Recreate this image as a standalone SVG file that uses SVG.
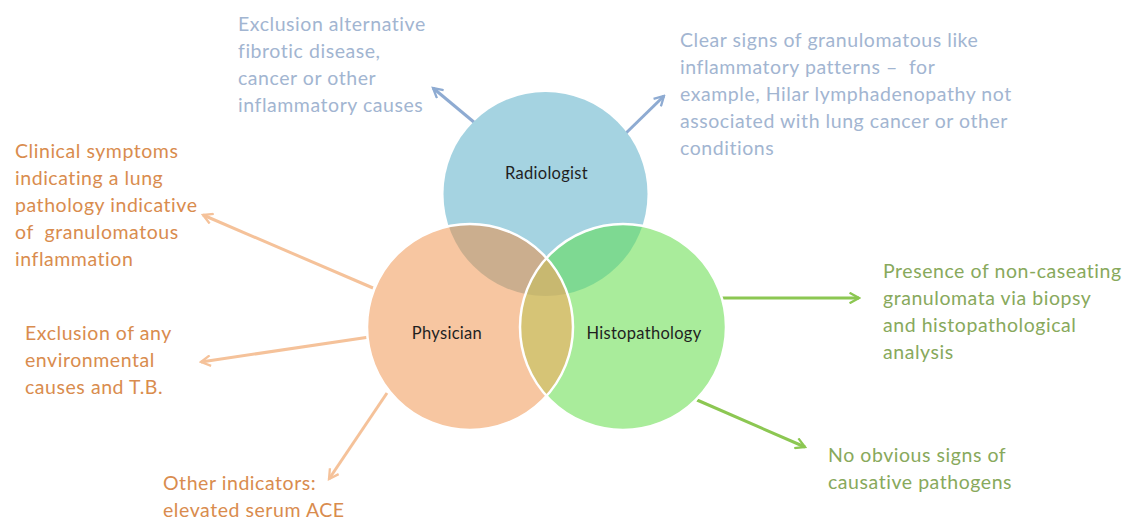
<svg xmlns="http://www.w3.org/2000/svg" width="1138" height="522" viewBox="0 0 1138 522">
<style>
text{font-family:Lato,"Liberation Sans",sans-serif}
.lbl{font-size:16.5px;fill:#1f1f1f;text-anchor:middle;letter-spacing:0.3px}
.t{font-size:19.5px;letter-spacing:0.55px}
.tb{fill:#A2B5D1}
.to{fill:#D98C4E}
.tg{fill:#88A95C}
.cb{stroke:#8EABD2;stroke-width:3;fill:none}
.co{stroke:#F5C29A;stroke-width:3;fill:none}
.cg{stroke:#8CC752;stroke-width:3;fill:none}
</style>
<defs>
<circle id="cR" cx="545.5" cy="194" r="102"/>
<circle id="cP" cx="470" cy="327" r="103"/>
<circle id="cH" cx="623" cy="327" r="103"/>
<clipPath id="clipR"><use href="#cR"/></clipPath>
<clipPath id="clipP"><use href="#cP"/></clipPath>
<clipPath id="clipH"><use href="#cH"/></clipPath>
<marker id="mb" viewBox="0 0 12 12" refX="10" refY="6" markerWidth="4.2" markerHeight="4.2" orient="auto" markerUnits="strokeWidth"><path d="M1,1 L10,6 L1,11" fill="none" stroke="#8EABD2" stroke-width="2.2"/></marker>
<marker id="mo" viewBox="0 0 12 12" refX="10" refY="6" markerWidth="4.2" markerHeight="4.2" orient="auto" markerUnits="strokeWidth"><path d="M1,1 L10,6 L1,11" fill="none" stroke="#F5C29A" stroke-width="2.2"/></marker>
<marker id="mg" viewBox="0 0 12 12" refX="10" refY="6" markerWidth="4.2" markerHeight="4.2" orient="auto" markerUnits="strokeWidth"><path d="M1,1 L10,6 L1,11" fill="none" stroke="#8CC752" stroke-width="2.2"/></marker>
</defs>
<rect width="1138" height="522" fill="#ffffff"/>
<g id="connectors">
<line class="cb" x1="475" y1="123" x2="433" y2="88" marker-end="url(#mb)"/>
<line class="cb" x1="624" y1="135" x2="664" y2="96" marker-end="url(#mb)"/>
<line class="co" x1="373" y1="288" x2="203" y2="215" marker-end="url(#mo)"/>
<line class="co" x1="383" y1="335" x2="201" y2="362" marker-end="url(#mo)"/>
<line class="co" x1="387" y1="393" x2="329" y2="479" marker-end="url(#mo)"/>
<line class="cg" x1="715" y1="298" x2="859" y2="298" marker-end="url(#mg)"/>
<line class="cg" x1="697" y1="400" x2="805" y2="447" marker-end="url(#mg)"/>
</g>
<g id="venn">
<use href="#cR" fill="#A5D3E1"/>
<use href="#cP" fill="#F7C6A1"/>
<use href="#cH" fill="#A9EC9B"/>
<g clip-path="url(#clipR)">
<use href="#cP" fill="#CBAE8E"/>
<use href="#cH" fill="#7ED992"/>
</g>
<g clip-path="url(#clipP)">
<use href="#cH" fill="#D6C476"/>
<g clip-path="url(#clipR)"><use href="#cH" fill="#C8B870"/></g>
</g>
<use href="#cP" fill="none" stroke="#ffffff" stroke-width="2.5"/>
<use href="#cH" fill="none" stroke="#ffffff" stroke-width="2.5"/>
</g>
<g id="node-radiologist"><text class="lbl" x="546.5" y="179">Radiologist</text></g>
<g id="node-physician"><text class="lbl" x="447" y="339">Physician</text></g>
<g id="node-histopathology"><text class="lbl" x="644" y="339">Histopathology</text></g>
<g id="note-radiology-left">
<text class="t tb" x="238" y="31">Exclusion alternative</text>
<text class="t tb" x="238" y="58">fibrotic disease,</text>
<text class="t tb" x="238" y="85">cancer or other</text>
<text class="t tb" x="238" y="112">inflammatory causes</text>
</g>
<g id="note-radiology-right">
<text class="t tb" x="680" y="47">Clear signs of granulomatous like</text>
<text class="t tb" x="680" y="74" xml:space="preserve">inflammatory patterns –  for</text>
<text class="t tb" x="680" y="101">example, Hilar lymphadenopathy not</text>
<text class="t tb" x="680" y="128">associated with lung cancer or other</text>
<text class="t tb" x="680" y="155">conditions</text>
</g>
<g id="note-physician-1">
<text class="t to" x="15" y="158">Clinical symptoms</text>
<text class="t to" x="15" y="185">indicating a lung</text>
<text class="t to" x="15" y="212">pathology indicative</text>
<text class="t to" x="15" y="239" xml:space="preserve">of  granulomatous</text>
<text class="t to" x="15" y="266">inflammation</text>
</g>
<g id="note-physician-2">
<text class="t to" x="25" y="340">Exclusion of any</text>
<text class="t to" x="25" y="367">environmental</text>
<text class="t to" x="25" y="394">causes and T.B.</text>
</g>
<g id="note-physician-3">
<text class="t to" x="163" y="490">Other indicators:</text>
<text class="t to" x="163" y="517">elevated serum ACE</text>
</g>
<g id="note-histo-1">
<text class="t tg" x="883" y="278">Presence of non-caseating</text>
<text class="t tg" x="883" y="305">granulomata via biopsy</text>
<text class="t tg" x="883" y="332">and histopathological</text>
<text class="t tg" x="883" y="359">analysis</text>
</g>
<g id="note-histo-2">
<text class="t tg" x="828" y="462">No obvious signs of</text>
<text class="t tg" x="828" y="489">causative pathogens</text>
</g>
</svg>
